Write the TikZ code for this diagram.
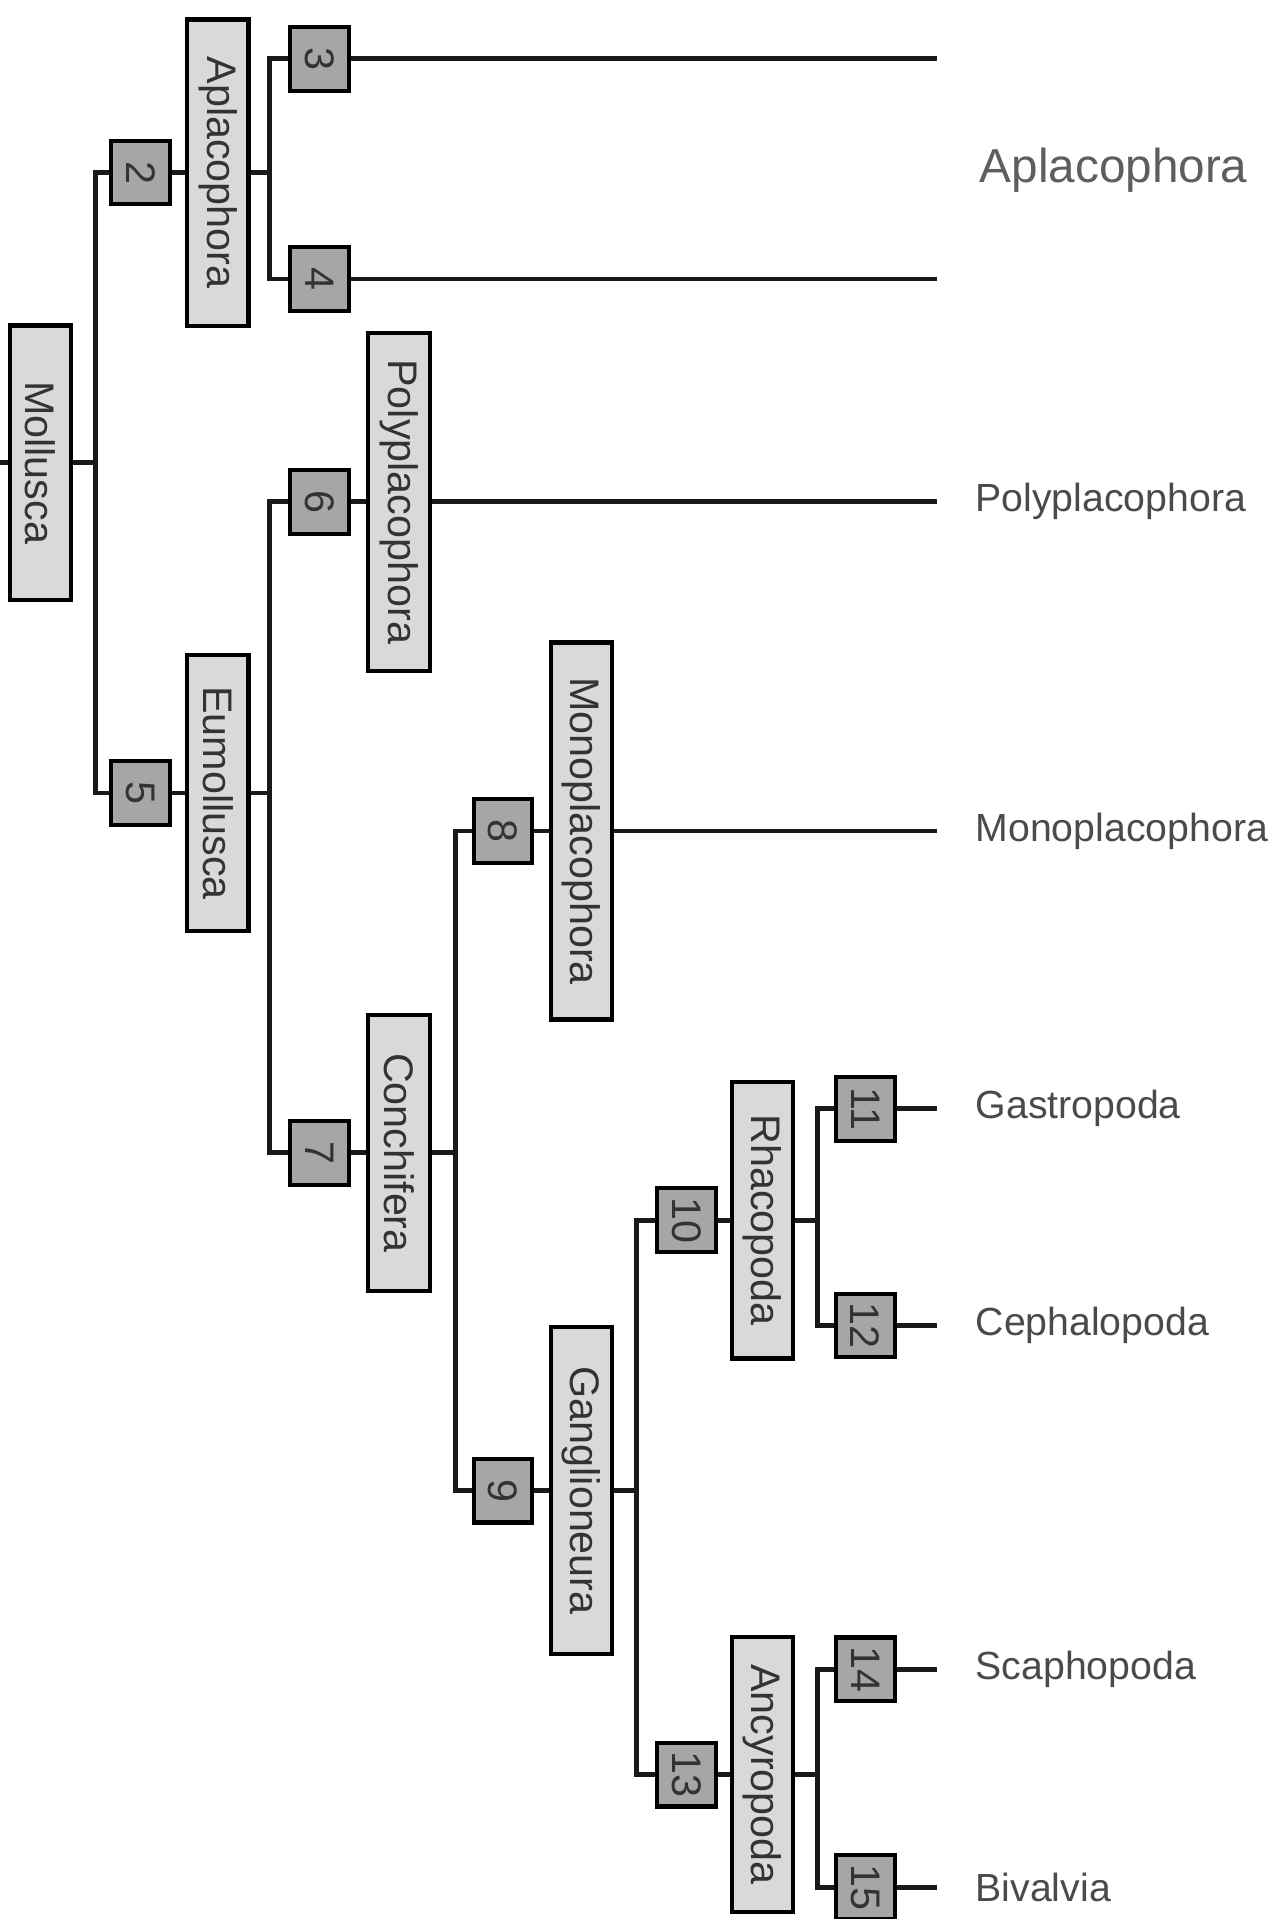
\documentclass[tikz,border=0pt]{standalone}
\usepackage{fontspec}
\setmainfont{Liberation Sans}
\usepackage{tikz}
\definecolor{boxlight}{HTML}{D9D9D9}
\definecolor{boxdark}{HTML}{A6A6A6}
\definecolor{inkgray}{HTML}{333333}
\definecolor{labelgray}{HTML}{4A4A4A}
\definecolor{groupgray}{HTML}{5E5E5E}
\newcommand{\boxfont}{\fontsize{24}{24}\selectfont}
\newcommand{\leaffont}{\fontsize{22.8}{24}\selectfont}
\newcommand{\groupfont}{\fontsize{27.7}{30}\selectfont}

\begin{document}
\begin{tikzpicture}[x=0.025cm,y=-0.025cm]
\tikzstyle{taxon}=[draw,line width=2.4pt,fill=boxlight,text=inkgray,rotate=-90,inner sep=0pt,minimum height=1.25cm,font=\boxfont]
\tikzstyle{numbox}=[draw,line width=2.4pt,fill=boxdark,text=inkgray,rotate=-90,inner sep=0pt,minimum width=1.3cm,minimum height=1.2cm,font=\boxfont]
\tikzstyle{leaf}=[anchor=west,inner sep=0pt,outer xsep=0.78cm,text=labelgray,font=\leaffont]
\tikzstyle{branch}=[line width=2.8pt,draw=black!90]
\useasboundingbox (0,0) rectangle (1045,1568);
\node[taxon,minimum width=5.6cm] (mol) at (33,378) {Mollusca};
\node[taxon,minimum width=6.25cm] (apl) at (178,141) {Aplacophora};
\node[taxon,minimum width=5.625cm] (eum) at (178,648) {Eumollusca};
\node[taxon,minimum width=6.9cm] (pol) at (326,410) {Polyplacophora};
\node[taxon,minimum width=5.625cm] (con) at (326,942) {Conchifera};
\node[taxon,minimum width=7.7cm] (mon) at (475,679) {Monoplacophora};
\node[taxon,minimum width=6.675cm] (gan) at (475,1218) {Ganglioneura};
\node[taxon,minimum width=5.65cm] (rha) at (623,997) {Rhacopoda};
\node[taxon,minimum width=5.625cm] (anc) at (623,1450) {Ancyropoda};
\node[numbox] (n2) at (115,141) {2};
\node[numbox] (n3) at (261,48) {3};
\node[numbox] (n4) at (261,228) {4};
\node[numbox] (n5) at (115,648) {5};
\node[numbox] (n6) at (261,410) {6};
\node[numbox] (n7) at (261,942) {7};
\node[numbox] (n8) at (411,679) {8};
\node[numbox] (n9) at (411,1218) {9};
\node[numbox] (n10) at (561,997) {10};
\node[numbox] (n11) at (707,906) {11};
\node[numbox] (n12) at (707,1083) {12};
\node[numbox] (n13) at (561,1450) {13};
\node[numbox] (n14) at (707,1364) {14};
\node[numbox] (n15) at (707,1542) {15};
\node[leaf] (lpol) at (766,410) {Polyplacophora};
\node[leaf] (lmon) at (766,679) {Monoplacophora};
\node[leaf] (lgas) at (766,906) {Gastropoda};
\node[leaf] (lcep) at (766,1083) {Cephalopoda};
\node[leaf] (lsca) at (766,1364) {Scaphopoda};
\node[leaf] (lbiv) at (766,1542) {Bivalvia};
\node[text=groupgray,font=\groupfont] (lapl) at (910,139) {Aplacophora};
\coordinate (root) at (0,378);
\coordinate (e3) at (766,48);
\coordinate (e4) at (766,228);
\coordinate (j1) at (78,378);
\coordinate (j2) at (220,141);
\coordinate (j3) at (220,648);
\coordinate (j4) at (372,942);
\coordinate (j5) at (520,1218);
\coordinate (j6) at (668,997);
\coordinate (j7) at (668,1450);
\draw[branch] (root) -- (mol) (mol) -- (j1) (j1) |- (n2) (j1) |- (n5);
\draw[branch] (n2) -- (apl) (apl) -- (j2) (j2) |- (n3) (j2) |- (n4);
\draw[branch] (n3) -- (e3) (n4) -- (e4);
\draw[branch] (n5) -- (eum) (eum) -- (j3) (j3) |- (n6) (j3) |- (n7);
\draw[branch] (n6) -- (pol) (pol) -- (lpol);
\draw[branch] (n7) -- (con) (con) -- (j4) (j4) |- (n8) (j4) |- (n9);
\draw[branch] (n8) -- (mon) (mon) -- (lmon);
\draw[branch] (n9) -- (gan) (gan) -- (j5) (j5) |- (n10) (j5) |- (n13);
\draw[branch] (n10) -- (rha) (rha) -- (j6) (j6) |- (n11) (j6) |- (n12);
\draw[branch] (n11) -- (lgas) (n12) -- (lcep);
\draw[branch] (n13) -- (anc) (anc) -- (j7) (j7) |- (n14) (j7) |- (n15);
\draw[branch] (n14) -- (lsca) (n15) -- (lbiv);
\end{tikzpicture}
\end{document}
